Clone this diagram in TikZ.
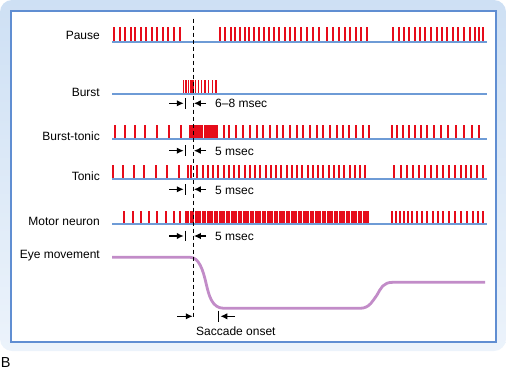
\documentclass[tikz,border=0pt]{standalone}
\usepackage{fontspec}
\setmainfont{Liberation Sans}
\usetikzlibrary{arrows.meta}
\definecolor{bgtop}{RGB}{206,224,244}
\definecolor{bgbot}{RGB}{236,243,251}
\definecolor{frameblue}{RGB}{96,142,210}
\definecolor{baseblue}{RGB}{110,155,214}
\definecolor{spikered}{RGB}{230,12,26}
\definecolor{eyepurple}{RGB}{194,140,200}
\newcommand{\spk}[3]{\fill[spikered] (#1-1,#2) rectangle (#1+1,#3);}
\newcommand{\thinspk}[3]{\fill[spikered] (#1-0.75,#2) rectangle (#1+0.75,#3);}
\begin{document}
\begin{tikzpicture}[x=1pt,y=-1pt,
  lbl/.style={anchor=base east,inner sep=0pt,font=\fontsize{12}{14}\selectfont},
  txt/.style={anchor=base west,inner sep=0pt,font=\fontsize{12}{14}\selectfont},
  baseline/.style={baseblue,line width=2.2pt},
  meas/.style={line width=1.4pt,-{Latex[length=7pt,width=6.5pt]}},
  tickmark/.style={line width=1.3pt}]
\useasboundingbox (0,0) rectangle (506,370);
% background and frame
\shade[top color=bgtop,bottom color=bgbot,rounded corners=12pt] (0,0) rectangle (506,351);
\draw[frameblue,line width=2pt,fill=white] (10.5,10.5) rectangle (496,341.5);
% row labels
\node[lbl] (lpause) at (100,39.5) {Pause};
\node[lbl] (lburst) at (100,96) {Burst};
\node[lbl] (lbt) at (100,140) {Burst-tonic};
\node[lbl] (ltonic) at (100,180) {Tonic};
\node[lbl] (lmotor) at (100,225) {Motor neuron};
\node[lbl] (leye) at (100,258) {Eye movement};
\node[anchor=base west,inner sep=0pt,font=\fontsize{14.5}{17}\selectfont] (lB) at (0.8,367.5) {B};
% baselines
\foreach \y in {41.7,93.7,138.7,178.7,224.3}
  {\draw[baseline] (112,\y) -- (487,\y);}
% Pause spikes
\foreach \x in {114,119.5,125,130.5,135,140.5,146,151.5,157,162.5,168,173.5,179.5,
  220,225.3,230.7,235.3,240,244.7,249.3,254,258.7,264,269.3,274,279.3,284.7,290,295.3,300.7,306.7,312.7,318.7,327.3,332.7,338.7,344.7,350,356,361.3,367.3,
  393.3,398.7,404,409.3,414.7,420,425.3,430.7,436.7,442,447.3,452.7,458,464,470,475.3,479.3,483.3}
  {\spk{\x}{27.3}{40.8}}
% Burst spikes
\foreach \x in {183.3,186,188.7,190.9,193.1,195.4,198.3,201.7,205,208.3,212.3,216}
  {\thinspk{\x}{80}{92.8}}
% Burst-tonic spikes
\foreach \x in {115,125,134.7,144.5,156.7,169,180.5,
  224,229.3,236,242.7,250,256.7,263.3,270,276.7,283.3,290,296.7,303.3,310,316.7,323.3,330,336.7,343.3,349.3,356,362.7,368.7,
  392,396.7,403,409,415,421,427.3,434,440.7,448.2,455.5,463.5,471.5,479.3}
  {\spk{\x}{125}{137.8}}
\foreach \i in {0,...,13}
  {\spk{189.5+2.15*\i}{125}{137.8}}
% Tonic spikes
\foreach \x in {113.3,123.3,134,144,156,167.3,179.3,188,190.7,
  394,400.7,407.3,413.3,419.3,425.3,431.3,437.3,443.3,449.3,455.3,460.7,466,471.3,477.3,482.7}
  {\spk{\x}{164.5}{177.8}}
\foreach \i in {0,...,32}
  {\spk{197.3+5.25*\i}{164.5}{177.8}}
% Motor neuron spikes
\foreach \x in {124.3,132.5,140.7,148.8,157.3,165.8,174,180,
  391.5,395.5,399.5,403.5,407.5,411.5,416.5,421.5,427,432.5,438,443.3,448.7,454.5,460.5,466.5,472.5,478,482.7}
  {\spk{\x}{210.7}{223.4}}
\foreach \i in {0,...,76}
  {\spk{186+2.4*\i}{210.7}{223.4}}
% eye movement trace
\draw[eyepurple,line width=2.8pt,line join=round]
  (112,257.3) -- (190,257.3)
  .. controls (199,257.3) and (203,270) .. (206,283)
  .. controls (209,296) and (212,308.3) .. (224,308.3)
  -- (360,308.3)
  .. controls (370,308.3) and (373,300) .. (377,295)
  .. controls (381,288) and (383,282.3) .. (393,282.3)
  -- (485,282.3);
% measurement arrows
\foreach \r/\b/\t [count=\k] in {103.3/107.3/6–8 msec,150.7/155/5 msec,189.3/194/5 msec,236/240.7/5 msec}{
  \coordinate (la\k) at (169,\r);
  \coordinate (lb\k) at (183.8,\r);
  \coordinate (ra\k) at (206,\r);
  \coordinate (rb\k) at (193.8,\r);
  \draw[meas] (la\k) -- (lb\k);
  \draw[tickmark] (185.7,\r-5.3) -- (185.7,\r+5.3);
  \draw[meas] (ra\k) -- (rb\k);
  \node[txt] (mt\k) at (215,\b) {\t};
}
% saccade onset
\coordinate (sa) at (177.3,316.3);
\coordinate (sb) at (192.8,316.3);
\coordinate (sc) at (235,316.3);
\coordinate (sd) at (220.3,316.3);
\draw[meas] (sa) -- (sb);
\draw[tickmark] (218.3,310.5) -- (218.3,322);
\draw[meas] (sc) -- (sd);
\node[txt] (sacc) at (196,335) {Saccade onset};
% dashed onset line
\coordinate (dtop) at (193.3,18.5);
\coordinate (dbot) at (193.3,318);
\draw[line width=1.3pt,dash pattern=on 4pt off 3pt] (dtop) -- (dbot);
\end{tikzpicture}
\end{document}
